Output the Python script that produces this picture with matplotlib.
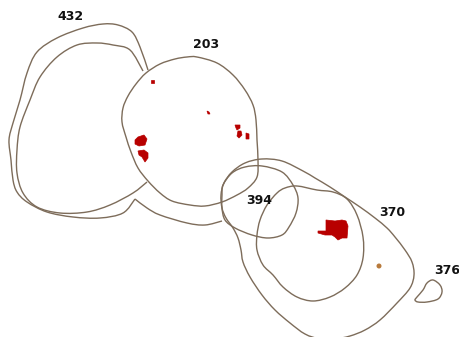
import matplotlib
matplotlib.use("Agg")
import matplotlib.pyplot as plt
from matplotlib.patches import Polygon, Circle, PathPatch
from matplotlib.path import Path

# ---- outlines (pixel coordinates of the map, y grows downward) ----
outer_432a = [(148, 70), (140, 47), (132, 32), (118, 25), (103, 24), (83, 28), (57, 38),
              (37, 52), (27, 73), (20, 100), (13, 123), (9, 140), (11, 160), (13, 180),
              (17, 192), (27, 202), (47, 212), (73, 217), (100, 218), (123, 213),
              (135, 199)]
outer_432b = [(135, 199), (147, 208), (160, 215), (187, 223), (205, 225), (222, 221)]
inner_432 = [(143, 71), (130, 50), (113, 45), (97, 43), (77, 45), (57, 57), (40, 77),
             (30, 100), (20, 127), (17, 150), (17, 173), (23, 193), (37, 207), (60, 213),
             (87, 212), (110, 205), (133, 193), (147, 182)]
shape_203 = [(197, 57), (217, 63), (233, 75), (245, 90), (253, 105), (256, 120), (257, 140),
             (258, 160), (257, 177), (248, 188), (237, 195), (222, 202), (205, 206),
             (190, 205), (172, 201), (160, 193), (148, 181), (138, 168), (131, 152),
             (126, 137), (122, 122), (123, 108), (128, 96), (136, 84), (146, 73),
             (160, 64), (175, 59), (187, 57)]
shape_394 = [(222, 195), (223, 185), (232, 173), (245, 167), (262, 166), (282, 172),
             (293, 185), (298, 198), (296, 213), (289, 227), (282, 235), (268, 238),
             (252, 235), (235, 228), (225, 220), (222, 208)]
outer_370 = [(226, 218), (233, 228), (238, 238), (241, 250), (243, 262), (250, 277),
             (262, 295), (275, 310), (290, 323), (305, 334), (320, 339), (335, 339),
             (350, 336), (365, 330), (380, 320), (397, 303), (410, 288), (414, 275),
             (412, 262), (405, 250), (395, 237), (387, 228), (375, 218), (360, 207),
             (345, 197), (330, 187), (315, 178), (303, 171), (282, 161), (262, 159),
             (245, 163), (232, 172), (224, 183), (221, 195), (222, 208)]
inner_370 = [(297, 186), (317, 190), (333, 192), (347, 199), (357, 215), (363, 237),
             (363, 258), (357, 275), (345, 288), (330, 297), (313, 301), (297, 297),
             (283, 287), (273, 275), (263, 265), (257, 250), (257, 235), (260, 220),
             (267, 205), (277, 193), (285, 188)]
shape_376 = [(417, 297), (423, 290), (427, 283), (433, 280), (440, 285), (442, 292),
             (438, 299), (427, 302), (418, 302), (415, 300)]

# ---- red spots ----
spots = [
    [(151, 80), (154, 80), (154, 83), (151, 83)],
    [(135, 140), (138, 137), (144, 135), (147, 139), (145, 145), (139, 146), (135, 144)],
    [(138, 151), (144, 150), (148, 153), (148, 158), (145, 162), (142, 157), (139, 155)],
    [(207, 111), (209, 112), (210, 114), (208, 114)],
    [(235, 125), (240, 125), (240, 128), (237, 130), (236, 128)],
    [(238, 131), (241, 131), (242, 135), (239, 138), (237, 136)],
    [(246, 133), (249, 134), (249, 139), (246, 139)],
    [(326, 220), (335, 221), (342, 220), (346, 221), (348, 226), (347, 238), (342, 238),
     (338, 240), (335, 237), (332, 235), (325, 235), (318, 233), (318, 231), (326, 231)],
]
dot_xy = (379, 266)

labels = ["432", "203", "394", "370", "376"]
label_xy = [(71, 17), (206, 45), (259, 201), (392, 212), (447, 271)]

line_c = "#7d6c5a"


def smooth_path(pts, closed):
    # Catmull-Rom through the traced points, written as cubic Bezier segments
    n = len(pts)
    verts = [pts[0]]
    codes = [Path.MOVETO]
    last = n if closed else n - 1
    for i in range(last):
        p0 = pts[(i - 1) % n] if (closed or i > 0) else pts[i]
        p1 = pts[i]
        p2 = pts[(i + 1) % n]
        p3 = pts[(i + 2) % n] if (closed or i + 2 < n) else p2
        c1 = (p1[0] + (p2[0] - p0[0]) / 6, p1[1] + (p2[1] - p0[1]) / 6)
        c2 = (p2[0] - (p3[0] - p1[0]) / 6, p2[1] - (p3[1] - p1[1]) / 6)
        verts += [c1, c2, p2]
        codes += [Path.CURVE4] * 3
    return Path(verts, codes)


fig = plt.figure(figsize=(4.59, 3.37), dpi=100)
ax = fig.add_axes([0, 0, 1, 1])
ax.set_xlim(0, 459)
ax.set_ylim(337, 0)
ax.axis("off")

for pts in [outer_432a, outer_432b, inner_432]:
    ax.add_patch(PathPatch(smooth_path(pts, False), fill=False, ec=line_c, lw=1.0))

for pts in [shape_203, shape_394, outer_370, inner_370, shape_376]:
    ax.add_patch(PathPatch(smooth_path(pts, True), fill=False, ec=line_c, lw=1.0))

for pts in spots:
    ax.add_patch(Polygon(pts, closed=True, fc="#b80000", ec="#b80000", lw=0.5))
ax.add_patch(Circle(dot_xy, 2.5, fc="#b87a3c", ec="none"))

for lab, (x, y) in zip(labels, label_xy):
    ax.text(x, y, lab, ha="center", va="center", fontsize=9,
            fontweight="bold", family="DejaVu Sans", color="#111111")

fig.savefig("out.png", dpi=100)
